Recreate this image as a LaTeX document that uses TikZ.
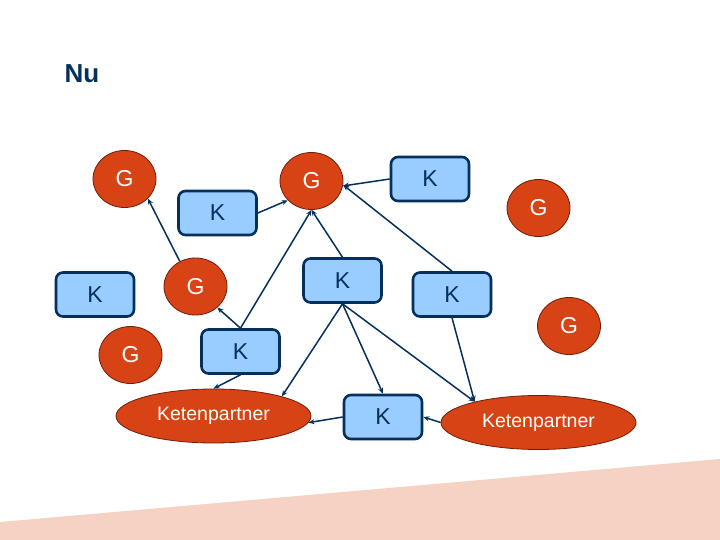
\documentclass[tikz,border=0pt]{standalone}
\usepackage{fontspec}
\setmainfont{Liberation Sans}
\usetikzlibrary{shapes.geometric,arrows.meta}
\definecolor{gfill}{RGB}{216,67,21}
\definecolor{gline}{RGB}{110,30,10}
\definecolor{kfill}{RGB}{153,204,255}
\definecolor{navy}{RGB}{5,48,92}
\definecolor{bandpink}{RGB}{245,210,196}

\begin{document}
\begin{tikzpicture}[x=1pt, y=-1pt,
  gnode/.style={draw=gline, fill=gfill, ellipse, line width=0.8pt, minimum width=63pt, minimum height=57pt, inner sep=0pt, text=white, font=\fontsize{23}{27}\selectfont},
  knode/.style={draw=navy, fill=kfill, rectangle, rounded corners=7pt, line width=2.6pt, minimum width=78pt, minimum height=44pt, inner sep=0pt, text=navy, font=\fontsize{23}{27}\selectfont},
  partner/.style={draw=gline, fill=gfill, ellipse, line width=0.8pt, minimum width=195pt, minimum height=54pt, inner sep=0pt, text=white, font=\fontsize{19.5}{23}\selectfont},
  link/.style={draw=navy, line width=1.5pt, -{Stealth[length=6pt,width=5pt]}},
]
\fill[white] (0,0) rectangle (720,540);
\useasboundingbox (0,0) rectangle (720,540);
\fill[bandpink] (0,522) -- (720,459) -- (720,540) -- (0,540) -- cycle;

\node[text=navy, font=\fontsize{26}{30}\selectfont\bfseries] (title) at (82,74) {Nu};

\node[gnode] (g1) at (124.5,179) {G};
\node[gnode] (g2) at (311.5,181) {G};
\node[gnode] (g3) at (538.5,208) {G};
\node[gnode] (g4) at (195.5,286.5) {G};
\node[gnode] (g5) at (130.5,355) {G};
\node[gnode] (g6) at (569,326) {G};

\node[knode] (k1) at (430,179) {K};
\node[knode] (k2) at (217.5,213) {K};
\node[knode] (k3) at (95,294.5) {K};
\node[knode] (k4) at (342.5,280.5) {K};
\node[knode] (k5) at (452,294.5) {K};
\node[knode] (k6) at (240.5,351.5) {K};
\node[knode] (k7) at (383,417) {K};

\node[partner] (kp1) at (213.5,416) {Ketenpartner};
\node[partner] (kp2) at (538.5,422.5) {Ketenpartner};

\draw[link] (k1.west) -- (g2.-9);
\draw[link] (k2.east) -- (g2.219);
\draw[link] (k5.north) -- (g2.-7);
\draw[link] (g4.122) -- (g1.-40);
\draw[link] (k6.north) -- (g4.-44);
\draw[link] (k6.north) -- (g2.south);
\draw[link] (k4.north) -- (g2.south);
\draw[link] (k4.south) -- (k7.north);
\draw[link] (k4.south) -- (kp1.16);
\draw[link] (k4.south) -- (kp2.162);
\draw[link] (k5.south) -- (kp2.162);
\draw[link] (k6.south) -- (kp1.north);
\draw[link] (k7.west) -- (kp1.-4);
\draw[link] (kp2.west) -- (k7.east);
\end{tikzpicture}
\end{document}
